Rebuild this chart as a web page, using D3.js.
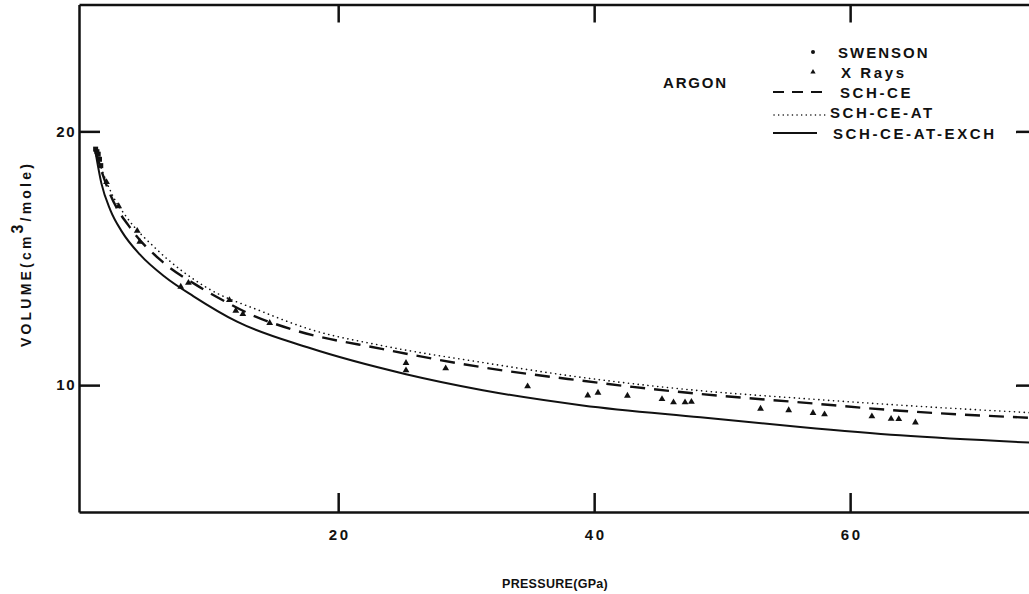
<!DOCTYPE html>
<html>
<head>
<meta charset="utf-8">
<script src="https://cdn.jsdelivr.net/npm/d3@7"></script>
<style>
  html, body { margin: 0; padding: 0; background: #fff; }
  text { font-family: "Liberation Sans", Arial, sans-serif; font-weight: bold; fill: #111; }
</style>
</head>
<body>
<svg id="chart" width="1029" height="594"></svg>
<script>
// ---- data ----
const xTicks = [20, 40, 60];
const yTicks = [10, 20];

// Swenson points (dots)
const swenson = [[1.05, 19.3], [1.15, 19.2], [1.25, 19.1], [1.35, 18.9], [1.45, 18.65]];

// X-ray points (small triangles)
const xrays = [
  [1.9, 18.0], [2.85, 17.05], [4.3, 16.08], [4.5, 15.65], [7.7, 13.88], [8.3, 14.03],
  [11.5, 13.35], [12.0, 12.93], [12.55, 12.8], [14.65, 12.45], [25.3, 10.87], [25.3, 10.58],
  [28.4, 10.66], [34.8, 9.95], [39.5, 9.59], [40.3, 9.7], [42.6, 9.58], [45.3, 9.45],
  [46.2, 9.32], [47.1, 9.32], [47.6, 9.34], [53.0, 9.07], [55.2, 9.01], [57.1, 8.9],
  [58.0, 8.85], [61.7, 8.77], [63.2, 8.67], [63.8, 8.66], [65.1, 8.53]
];

// SCH-CE (dashed)
const schCe = [
  [1.0, 19.3], [1.5, 18.45], [2.2, 17.5], [3.9, 16.1], [6.3, 14.85], [8.9, 13.95],
  [11.3, 13.26], [13.1, 12.8], [16.5, 12.18], [23.5, 11.42], [31.3, 10.7], [39.1, 10.17],
  [43.0, 9.93], [48.3, 9.65], [56.1, 9.32], [63.9, 8.99], [74.6, 8.7]
];

// SCH-CE-AT (dotted)
const schCeAt = [
  [1.0, 19.3], [1.6, 18.4], [2.4, 17.45], [3.5, 16.6], [5.8, 15.36], [9.7, 13.85],
  [13.9, 12.93], [17.8, 12.2], [23.5, 11.55], [31.3, 10.89], [39.1, 10.3], [44.35, 9.98],
  [48.3, 9.78], [56.1, 9.48], [63.9, 9.21], [74.6, 8.9]
];

// SCH-CE-AT-EXCH (solid)
const schCeAtExch = [
  [1.0, 19.3], [1.5, 17.95], [2.2, 16.9], [3.1, 16.05], [4.5, 15.15], [6.5, 14.25],
  [8.7, 13.5], [12.1, 12.5], [17.6, 11.49], [25.3, 10.43], [31.3, 9.8], [39.1, 9.2],
  [48.3, 8.73], [56.1, 8.35], [63.9, 8.02], [74.6, 7.72]
];

const svg = d3.select("#chart");

// scales (frame edges sit on the ends of the ranges)
const x = d3.scaleLinear().domain([-0.25, 74.6]).range([79, 1037]);
const y = d3.scaleLinear().domain([5, 25]).range([512, 4.5]);

const [x0, x1] = x.range();
const [y0, y1] = y.range();

// axes: ticks point inward on all four sides
const axisStyle = g => {
  g.select(".domain").attr("stroke", "#111").attr("stroke-width", 2.5);
  g.selectAll(".tick line").attr("stroke", "#111").attr("stroke-width", 2.5);
};
const labelStyle = (g, spacing) => g.selectAll(".tick text")
  .attr("font-size", 15).attr("letter-spacing", spacing).attr("fill", "#111")
  .style("font-family", "Liberation Sans, Arial, sans-serif").style("font-weight", "bold");

svg.append("g")
  .attr("transform", `translate(0,${y0})`)
  .call(d3.axisBottom(x).tickValues(xTicks).tickSizeInner(-19).tickSizeOuter(0).tickPadding(17))
  .call(axisStyle)
  .call(g => labelStyle(g, 2.5).attr("dx", 1));

svg.append("g")
  .attr("transform", `translate(0,${y1})`)
  .call(d3.axisTop(x).tickValues(xTicks).tickSizeInner(-18).tickSizeOuter(0).tickFormat(""))
  .call(axisStyle);

svg.append("g")
  .attr("transform", `translate(${x0},0)`)
  .call(d3.axisLeft(y).tickValues(yTicks).tickSizeInner(-21).tickSizeOuter(0).tickPadding(3))
  .call(axisStyle)
  .call(g => labelStyle(g, 1.5));

svg.append("g")
  .attr("transform", `translate(${x1},0)`)
  .call(d3.axisRight(y).tickValues(yTicks).tickSizeInner(-21).tickSizeOuter(0).tickFormat(""))
  .call(axisStyle);

// curves
const line = d3.line().x(d => x(d[0])).y(d => y(d[1])).curve(d3.curveMonotoneX);

const plot = svg.append("g");

plot.append("path").datum(schCeAtExch)
  .attr("d", line).attr("fill", "none").attr("stroke", "#111").attr("stroke-width", 2);

plot.append("path").datum(schCe)
  .attr("d", line).attr("fill", "none").attr("stroke", "#111").attr("stroke-width", 2.4)
  .attr("stroke-dasharray", "15,9");

plot.append("path").datum(schCeAt)
  .attr("d", line).attr("fill", "none").attr("stroke", "#111").attr("stroke-width", 1.6)
  .attr("stroke-linecap", "round").attr("stroke-dasharray", "0.1,4.8");

// points
const tri = d3.symbol().type(d3.symbolTriangle).size(20);

plot.selectAll(".xr").data(xrays).join("path")
  .attr("class", "xr")
  .attr("transform", d => `translate(${x(d[0])},${y(d[1])})`)
  .attr("d", tri).attr("fill", "#111");

plot.selectAll(".sw").data(swenson).join("rect")
  .attr("class", "sw")
  .attr("x", d => x(d[0]) - 2.5).attr("y", d => y(d[1]) - 2.5)
  .attr("width", 5).attr("height", 5).attr("fill", "#111");

// title and legend
svg.append("text").attr("x", 663).attr("y", 88)
  .attr("font-size", 15).attr("letter-spacing", 1.8).text("ARGON");

const legendRows = [
  { label: "SWENSON", kind: "dot", ty: 58, tx: 838 },
  { label: "X Rays", kind: "tri", ty: 78, tx: 841 },
  { label: "SCH-CE", kind: "dash", ty: 98, tx: 840 },
  { label: "SCH-CE-AT", kind: "dotline", ty: 118, tx: 830 },
  { label: "SCH-CE-AT-EXCH", kind: "solid", ty: 139, tx: 833 }
];

const leg = svg.append("g");
legendRows.forEach(r => {
  const cy = r.ty - 6;
  if (r.kind === "dot") {
    leg.append("circle").attr("cx", 813).attr("cy", cy).attr("r", 2).attr("fill", "#111");
  } else if (r.kind === "tri") {
    leg.append("path").attr("transform", `translate(813,${cy})`)
      .attr("d", d3.symbol().type(d3.symbolTriangle).size(12)).attr("fill", "#111");
  } else if (r.kind === "dash") {
    leg.append("line").attr("x1", 773).attr("x2", 822).attr("y1", cy).attr("y2", cy)
      .attr("stroke", "#111").attr("stroke-width", 2).attr("stroke-dasharray", "11,8");
  } else if (r.kind === "dotline") {
    leg.append("line").attr("x1", 774).attr("x2", 827).attr("y1", cy + 3).attr("y2", cy + 3)
      .attr("stroke", "#111").attr("stroke-width", 1.5).attr("stroke-linecap", "round")
      .attr("stroke-dasharray", "0.1,4.5");
  } else {
    leg.append("line").attr("x1", 773).attr("x2", 817).attr("y1", cy).attr("y2", cy)
      .attr("stroke", "#111").attr("stroke-width", 2);
  }
  leg.append("text").attr("x", r.tx).attr("y", r.ty)
    .attr("font-size", 15).attr("letter-spacing", r.kind === "dot" ? 2 : 2.6)
    .style("font-weight", r.kind === "dot" ? 900 : "bold")
    .text(r.label);
});

// axis titles
svg.append("text").attr("x", 502).attr("y", 588)
  .attr("font-size", 12.5).attr("letter-spacing", 0.3).text("PRESSURE(GPa)");

const yl = svg.append("text")
  .attr("transform", "translate(31,254) rotate(-90)")
  .attr("text-anchor", "middle")
  .attr("font-size", 14).attr("letter-spacing", 3.2);
yl.append("tspan").text("VOLUME(cm");
yl.append("tspan").attr("dy", -8).attr("font-size", 16).text("3");
yl.append("tspan").attr("dy", 8).text("/mole)");
</script>
</body>
</html>
